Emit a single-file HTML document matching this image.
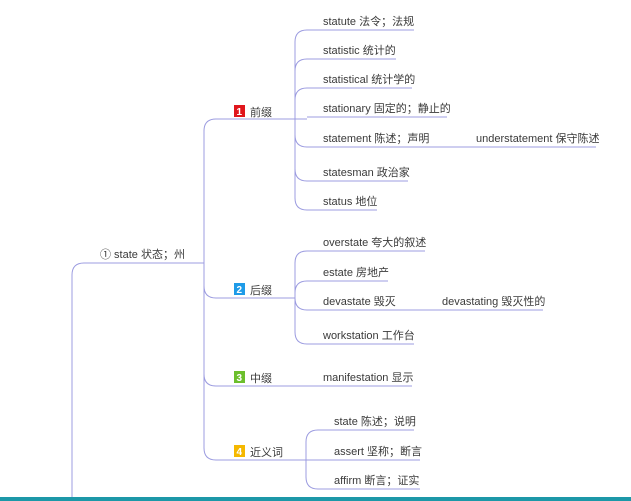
<!DOCTYPE html>
<html><head><meta charset="utf-8"><style>
html,body{margin:0;padding:0;background:#fff;}
svg{display:block;}
text{font-family:"Liberation Sans","Noto Sans CJK SC",sans-serif;font-size:11px;fill:#3a3a3a;}
.l{fill:none;stroke:#9c9ce0;stroke-width:1;}
.b{font-size:10px;font-weight:bold;fill:#fff;}
</style></head><body>
<svg width="631" height="501" viewBox="0 0 631 501" xmlns="http://www.w3.org/2000/svg">
<rect width="631" height="501" fill="#fff"/>
<path class="l" d="M72 497 V275 Q72 263 84 263 H204"/>
<text x="100" y="258">① state 状态；州</text>
<path class="l" d="M216 119 Q204 119 204 131 V448 Q204 460 216 460"/>
<path class="l" d="M216 119 H295"/>
<rect x="234" y="105" width="11" height="12" fill="#e0161c"/><text class="b" x="236.5" y="115">1</text>
<text x="250" y="116">前缀</text>
<path class="l" d="M307 30 Q295 30 295 42 V198 Q295 210 307 210"/>
<path class="l" d="M307 59 Q295 59 295 71 M307 88 Q295 88 295 100 M295 119 H307 M295 135 Q295 147 307 147 M295 169 Q295 181 307 181"/>
<path class="l" d="M307 30 H414 M307 59 H396 M307 88 H412 M307 117 H447 M307 147 H596 M307 181 H408 M307 210 H377"/>
<text x="323" y="25">statute 法令；法规</text>
<text x="323" y="54">statistic 统计的</text>
<text x="323" y="83">statistical 统计学的</text>
<text x="323" y="112">stationary 固定的；静止的</text>
<text x="323" y="142">statement 陈述；声明</text>
<text x="476" y="142">understatement 保守陈述</text>
<text x="323" y="176">statesman 政治家</text>
<text x="323" y="205">status 地位</text>
<path class="l" d="M204 286 Q204 298 216 298 H295"/>
<rect x="234" y="283" width="11" height="12" fill="#1e9be8"/><text class="b" x="236.5" y="293">2</text>
<text x="250" y="294">后缀</text>
<path class="l" d="M307 251 Q295 251 295 263 V332 Q295 344 307 344 M307 281 Q295 281 295 293 M295 298 Q295 310 307 310"/>
<path class="l" d="M307 251 H425 M307 281 H388 M307 310 H543 M307 344 H414"/>
<text x="323" y="246">overstate 夸大的叙述</text>
<text x="323" y="276">estate 房地产</text>
<text x="323" y="305">devastate 毁灭</text>
<text x="442" y="305">devastating 毁灭性的</text>
<text x="323" y="339">workstation 工作台</text>
<path class="l" d="M204 374 Q204 386 216 386 H412"/>
<rect x="234" y="371" width="11" height="12" fill="#6cbf2c"/><text class="b" x="236.5" y="381">3</text>
<text x="250" y="382">中缀</text>
<text x="323" y="381">manifestation 显示</text>
<path class="l" d="M216 460 H420"/>
<rect x="234" y="445" width="11" height="12" fill="#f5b800"/><text class="b" x="236.5" y="455">4</text>
<text x="250" y="456">近义词</text>
<path class="l" d="M318 430 Q306 430 306 442 V477 Q306 489 318 489"/>
<path class="l" d="M318 430 H414 M318 489 H420"/>
<text x="334" y="425">state 陈述；说明</text>
<text x="334" y="455">assert 坚称；断言</text>
<text x="334" y="484">affirm 断言；证实</text>
<rect x="0" y="497" width="631" height="4" fill="#1c98a8"/>
</svg>
</body></html>
